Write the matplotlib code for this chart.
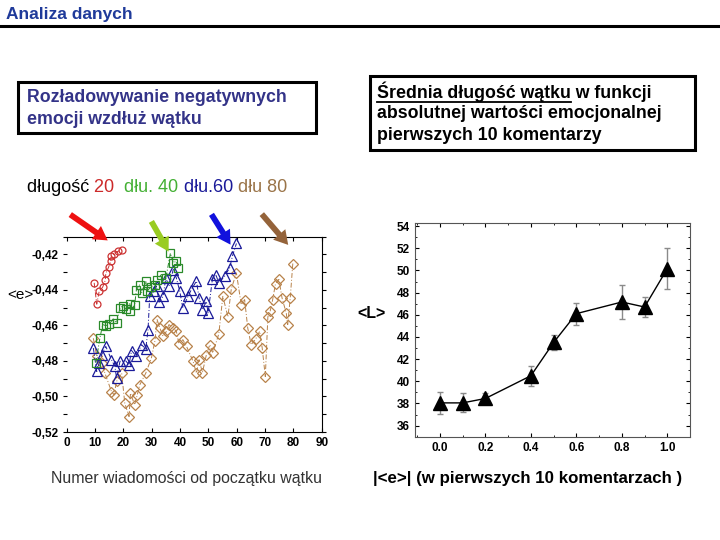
import matplotlib
matplotlib.use("Agg")
import matplotlib.pyplot as plt
from matplotlib import patches, lines
from matplotlib.ticker import FuncFormatter, MultipleLocator

plt.rcParams['font.family'] = ['Liberation Sans', 'DejaVu Sans']

# ========== dane: wykres lewy (<e> vs numer wiadomości) ==========
red_x = [9.7, 10.6, 11.5, 12.7, 13.6, 13.8, 14.8, 15.5, 15.8, 16.8, 18.0, 19.4]
red_y = [-0.436, -0.448, -0.4405, -0.4384, -0.4346, -0.4307, -0.4271, -0.4239,
         -0.4207, -0.4196, -0.4183, -0.4173]

green_x = [10.3, 11.7, 12.7, 13.8, 15.0, 16.4, 17.6, 18.8, 19.9, 20.9, 22.3, 22.5,
           24.0, 24.6, 25.8, 26.4, 27.9, 28.4, 29.6, 31.1, 31.9, 33.4, 35.0, 36.6,
           37.6, 38.7, 39.3]
green_y = [-0.481, -0.4672, -0.4595, -0.4601, -0.4592, -0.4563, -0.4586, -0.4501,
           -0.449, -0.4508, -0.4477, -0.452, -0.4483, -0.4398, -0.437, -0.4417,
           -0.435, -0.4407, -0.4384, -0.437, -0.4345, -0.4313, -0.4333, -0.4193,
           -0.4247, -0.4238, -0.4275]

blue_x = [9.4, 10.6, 11.5, 12.3, 13.8, 15.8, 17.0, 17.6, 18.8, 20.8, 22.0, 22.9,
          24.6, 26.4, 27.9, 28.7, 29.3, 30.8, 31.7, 32.6, 34.0, 35.0, 36.1, 37.6,
          38.7, 39.9, 41.0, 42.8, 44.0, 45.8, 46.7, 47.9, 49.3, 49.9, 51.4, 52.6,
          53.7, 55.7, 57.5, 58.5, 59.9]
blue_y = [-0.4727, -0.4859, -0.4812, -0.4765, -0.4718, -0.4793, -0.483, -0.4897,
          -0.4802, -0.4799, -0.4821, -0.4741, -0.4774, -0.4708, -0.4733, -0.4624,
          -0.4436, -0.4407, -0.4379, -0.4469, -0.4436, -0.4333, -0.4379, -0.4285,
          -0.4333, -0.4407, -0.4501, -0.4436, -0.4398, -0.435, -0.4444, -0.4511,
          -0.4464, -0.4531, -0.4341, -0.4313, -0.436, -0.4323, -0.4276, -0.4209,
          -0.4138]

brown_x = [9.4, 10.6, 12.3, 13.5, 15.8, 16.7, 17.6, 19.4, 20.5, 22.0, 22.5, 24.0,
           24.9, 25.8, 27.9, 29.9, 31.1, 31.9, 32.9, 34.0, 35.2, 36.1, 37.6, 38.7,
           39.6, 41.0, 42.3, 44.6, 45.8, 46.7, 47.9, 49.3, 50.5, 51.6, 53.7, 55.1,
           56.9, 58.1, 59.9, 61.6, 62.8, 63.9, 65.1, 66.7, 68.1, 69.0, 70.1, 71.0,
           71.8, 72.7, 73.7, 74.9, 76.0, 77.5, 78.0, 78.9, 79.8]
brown_y = [-0.4672, -0.4774, -0.4812, -0.4869, -0.4972, -0.4991, -0.4915, -0.4869,
           -0.5038, -0.5113, -0.4982, -0.5047, -0.4991, -0.4934, -0.4869, -0.4783,
           -0.469, -0.4567, -0.4615, -0.4662, -0.4633, -0.4595, -0.4615, -0.4633,
           -0.4703, -0.468, -0.4718, -0.4802, -0.4869, -0.4793, -0.4865, -0.4765,
           -0.4708, -0.4755, -0.4646, -0.4436, -0.4551, -0.4393, -0.4304, -0.4483,
           -0.4454, -0.4615, -0.4708, -0.4676, -0.4633, -0.4727, -0.4888, -0.4551,
           -0.452, -0.4454, -0.4364, -0.4341, -0.4445, -0.4531, -0.4595, -0.4445,
           -0.4251]

# ========== dane: wykres prawy (<L> vs |<e>|) ==========
abs_e = [0.0, 0.1, 0.2, 0.4, 0.5, 0.6, 0.8, 0.9, 1.0]
mean_L = [38.05, 38.05, 38.45, 40.5, 43.5, 46.1, 47.15, 46.7, 50.15]
err_L = [1.0, 0.85, 0.45, 0.9, 0.7, 1.0, 1.5, 0.9, 1.85]

W, H = 720, 540


def fx(x):
    return x / W


def fy(y):
    return 1 - y / H


fig = plt.figure(figsize=(7.2, 5.4), dpi=100)
renderer = fig.canvas.get_renderer()

# ========== nagłówek ==========
fig.text(fx(6), fy(14), "Analiza danych", color="#1f3a9a", fontsize=12.5,
         fontweight="bold", va="center", ha="left")
fig.add_artist(lines.Line2D([0, 1], [fy(26), fy(26)], color="black", lw=2.2,
                            transform=fig.transFigure))

# ========== ramki z opisem ==========
fs_box = 12.8
fig.add_artist(patches.Rectangle((fx(18), fy(133)), fx(316) - fx(18), fy(82) - fy(133),
                                 fill=False, lw=2.2, ec="black", transform=fig.transFigure))
fig.text(fx(27), fy(98), "Rozładowywanie negatywnych", color="#333388", fontsize=fs_box,
         fontweight="bold", va="center")
fig.text(fx(27), fy(120), "emocji wzdłuż wątku", color="#333388", fontsize=fs_box,
         fontweight="bold", va="center")

fig.add_artist(patches.Rectangle((fx(370), fy(150)), fx(695) - fx(370), fy(76) - fy(150),
                                 fill=False, lw=2.2, ec="black", transform=fig.transFigure))
box2_lines = ["Średnia długość wątku w funkcji", "absolutnej wartości emocjonalnej",
              "pierwszych 10 komentarzy"]
for i, s in enumerate(box2_lines):
    fig.text(fx(377), fy(92 + 22 * i), s, color="black", fontsize=fs_box,
             fontweight="bold", va="center")
# podkreślenie "Średnia długość wątku"
probe = fig.text(fx(377), fy(92), "Średnia długość wątku", fontsize=fs_box,
                 fontweight="bold", va="center", alpha=0)
bb = probe.get_window_extent(renderer=renderer)
fig.add_artist(lines.Line2D([bb.x0 / W, bb.x1 / W], [fy(102), fy(102)],
                            color="black", lw=1.3, transform=fig.transFigure))

# ========== kolorowa legenda ==========
legend_parts = [("długość ", "black"), ("20  ", "#cc2a2a"), ("dłu. 40 ", "#44b034"),
                ("dłu.60 ", "#1a1a99"), ("dłu 80", "#9a7448")]
x0 = 27
for s, c in legend_parts:
    t = fig.text(fx(x0), fy(188), s, color=c, fontsize=13, va="center")
    x0 = t.get_window_extent(renderer=renderer).x1

# ========== strzałki ==========
arrows = [((68, 213), (110, 242), "#ee1111"),
          ((150, 219), (170, 254), "#99cc22"),
          ((210, 212), (232, 247), "#1111dd"),
          ((260, 212), (290, 247), "#94633a")]
for (xa, ya), (xb, yb), c in arrows:
    fig.add_artist(patches.FancyArrowPatch(
        (fx(xa), fy(ya)), (fx(xb), fy(yb)), transform=fig.transFigure,
        arrowstyle="simple,head_width=1.05,head_length=0.9,tail_width=0.38",
        mutation_scale=11, color=c, lw=0, zorder=5))

# ========== wykres lewy ==========
ax1 = fig.add_axes([fx(66.7), fy(432), fx(321.7) - fx(66.7), fy(236.7) - fy(432)])
style = dict(lw=0.7, ls=(0, (5, 2, 1, 2)), mfc="none", mew=0.9)
ax1.plot(brown_x, brown_y, marker="D", ms=5.5, color="#b8824a", **style)
ax1.plot(blue_x, blue_y, marker="^", ms=6.5, color="#1a1a99", **style)
ax1.plot(green_x, green_y, marker="s", ms=6, color="#2a8a2a", **style)
ax1.plot(red_x, red_y, marker="o", ms=5, color="#cc3333", **style)
ax1.set_xlim(0, 90)
ax1.set_ylim(-0.52, -0.41)
ax1.xaxis.set_major_locator(MultipleLocator(10))
ax1.yaxis.set_major_locator(MultipleLocator(0.02))
ax1.yaxis.set_minor_locator(MultipleLocator(0.01))
ax1.yaxis.set_major_formatter(FuncFormatter(lambda v, p: f"{v:.2f}".replace(".", ",")))
ax1.spines["left"].set_visible(False)
ax1.tick_params(axis="y", which="both", direction="out", length=3, width=0.8,
                right=True, labelsize=8.5, pad=3)
ax1.tick_params(axis="x", direction="in", length=3, top=True, labelsize=8.5)
for lab in ax1.get_xticklabels() + ax1.get_yticklabels():
    lab.set_fontweight("bold")
fig.text(fx(7), fy(295), "<e>", fontsize=11, va="center", ha="left")
fig.text(fx(186), fy(478), "Numer wiadomości od początku wątku", fontsize=11.4,
         color="#333333", ha="center", va="center")

# ========== wykres prawy ==========
ax2 = fig.add_axes([fx(415), fy(436.7), fx(690) - fx(415), fy(223.3) - fy(436.7)])
ax2.errorbar(abs_e, mean_L, yerr=err_L, color="black", marker="^", ms=9.5, lw=1,
             ecolor="#8a8a8a", elinewidth=1, capsize=2.5, capthick=1)
ax2.set_xlim(-0.11, 1.1)
ax2.set_ylim(35, 54.25)
ax2.xaxis.set_major_locator(MultipleLocator(0.2))
ax2.xaxis.set_minor_locator(MultipleLocator(0.1))
ax2.yaxis.set_major_locator(MultipleLocator(2))
ax2.yaxis.set_minor_locator(MultipleLocator(1))
ax2.xaxis.set_major_formatter(FuncFormatter(lambda v, p: f"{v:.1f}"))
ax2.tick_params(which="both", direction="in", top=True, right=True, labelsize=8.5)
ax2.tick_params(which="major", length=3)
ax2.tick_params(which="minor", length=1.5)
for lab in ax2.get_xticklabels() + ax2.get_yticklabels():
    lab.set_fontweight("bold")
for sp in ax2.spines.values():
    sp.set_color("#555555")
fig.text(fx(357), fy(313), "<L>", fontsize=11.5, fontweight="bold", va="center", ha="left")
fig.text(fx(373), fy(478), "|<e>| (w pierwszych 10 komentarzach )", fontsize=12.2,
         fontweight="bold", ha="left", va="center")

fig.savefig("out.png", dpi=100)
